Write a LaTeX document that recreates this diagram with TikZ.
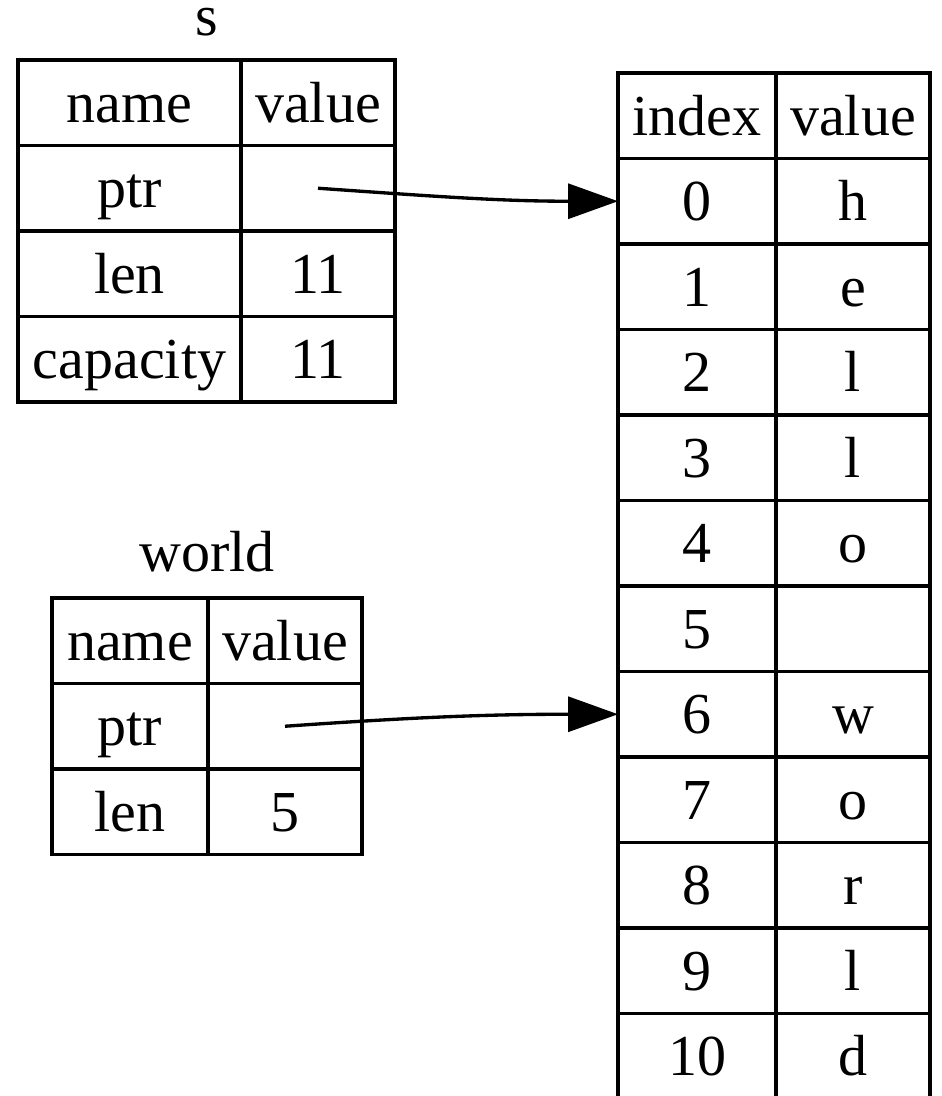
\documentclass[tikz,border=0pt]{standalone}
\usepackage{fontspec}
\setmainfont{Liberation Serif}
\usepackage{tikz}
\usetikzlibrary{arrows.meta, positioning}
\tikzset{
    field/.style={rectangle, draw, line width=1.1pt, inner sep=0pt, outer sep=0pt, minimum height=25.65pt, text height=14.8pt, text depth=3.1pt, align=center},
    namecol/.style={field, minimum width=66.9pt},
    narrowcol/.style={field, minimum width=46.8pt},
    indexcol/.style={field, minimum width=47.4pt},
    valuecol/.style={field, minimum width=46.2pt},
    title/.style={anchor=base, inner sep=0pt},
    ptrarrow/.style={-{Triangle[length=15pt, width=10.5pt]}, line width=1pt}
}

\begin{document}
\begin{tikzpicture}[x=0.3pt, y=-0.3pt, font=\fontsize{17.4}{20}\selectfont]
    \useasboundingbox (0,0) rectangle (941,1096);

    % String s
    \node[title] (slabel) at (206.5,36) {s};
    \node[namecol, anchor=north west] (sname) at (18,60) {name};
    \node[valuecol, right=0pt of sname] (sval) {value};
    \node[namecol, below=0pt of sname] (sptr) {ptr};
    \node[valuecol, right=0pt of sptr] (sptrval) {};
    \node[namecol, below=0pt of sptr] (slen) {len};
    \node[valuecol, right=0pt of slen] (slenval) {11};
    \node[namecol, below=0pt of slen] (scap) {capacity};
    \node[valuecol, right=0pt of scap] (scapval) {11};

    % Slice world
    \node[title] (wlabel) at (207,572) {world};
    \node[narrowcol, anchor=north west] (wname) at (52,598) {name};
    \node[valuecol, right=0pt of wname] (wval) {value};
    \node[narrowcol, below=0pt of wname] (wptr) {ptr};
    \node[valuecol, right=0pt of wptr] (wptrval) {};
    \node[narrowcol, below=0pt of wptr] (wlen) {len};
    \node[valuecol, right=0pt of wlen] (wlenval) {5};

    % Heap bytes
    \node[indexcol, anchor=north west] (ihead) at (618,73) {index};
    \node[valuecol, right=0pt of ihead] (vhead) {value};
    \node[indexcol, below=0pt of ihead] (i0) {0};
    \node[valuecol, right=0pt of i0] (v0) {h};
    \node[indexcol, below=0pt of i0] (i1) {1};
    \node[valuecol, right=0pt of i1] (v1) {e};
    \node[indexcol, below=0pt of i1] (i2) {2};
    \node[valuecol, right=0pt of i2] (v2) {l};
    \node[indexcol, below=0pt of i2] (i3) {3};
    \node[valuecol, right=0pt of i3] (v3) {l};
    \node[indexcol, below=0pt of i3] (i4) {4};
    \node[valuecol, right=0pt of i4] (v4) {o};
    \node[indexcol, below=0pt of i4] (i5) {5};
    \node[valuecol, right=0pt of i5] (v5) {};
    \node[indexcol, below=0pt of i5] (i6) {6};
    \node[valuecol, right=0pt of i6] (v6) {w};
    \node[indexcol, below=0pt of i6] (i7) {7};
    \node[valuecol, right=0pt of i7] (v7) {o};
    \node[indexcol, below=0pt of i7] (i8) {8};
    \node[valuecol, right=0pt of i8] (v8) {r};
    \node[indexcol, below=0pt of i8] (i9) {9};
    \node[valuecol, right=0pt of i9] (v9) {l};
    \node[indexcol, below=0pt of i9] (i10) {10};
    \node[valuecol, right=0pt of i10] (v10) {d};

    % Pointers
    \draw[ptrarrow] (sptrval.center) to[out=-4, in=180] (i0.west);
    \draw[ptrarrow] (wptrval.center) to[out=4, in=180] (i6.west);
\end{tikzpicture}
\end{document}
